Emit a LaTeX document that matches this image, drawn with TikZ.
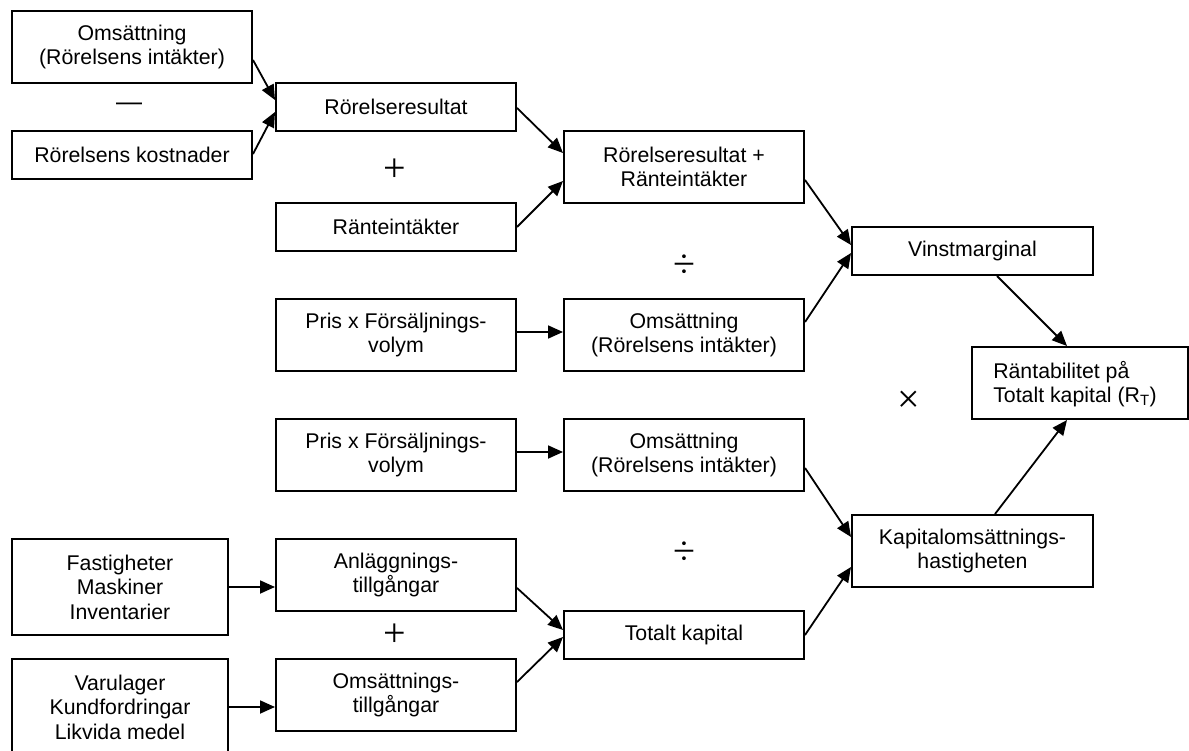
\documentclass[tikz,border=0pt]{standalone}
\usepackage{fontspec}
\setmainfont{Liberation Sans}
\newfontfamily\symfont{Liberation Serif}
\usetikzlibrary{calc,arrows.meta}
\begin{document}
\begin{tikzpicture}[x=1pt,y=-1pt,
  box/.style={draw,line width=2pt,rectangle,inner sep=0pt,align=center,
    font=\fontsize{21.3}{24.5}\selectfont},
  arr/.style={line width=1.8pt,-{Triangle[length=15pt,width=13pt]}},
  sym/.style={inner sep=0pt,font=\symfont\fontsize{40}{40}\selectfont}]
\clip (0,0) rectangle (1189,751);
% boxes
\node[box,minimum width=240pt,minimum height=72pt] (om1) at (132,47) {Omsättning\\(Rörelsens intäkter)};
\node[box,minimum width=240pt,minimum height=48pt] (kost) at (132,155) {Rörelsens kostnader};
\node[box,minimum width=240pt,minimum height=48pt] (rr) at (396,107) {Rörelseresultat};
\node[box,minimum width=240pt,minimum height=48pt] (ri) at (396,227) {Ränteintäkter};
\node[box,minimum width=240pt,minimum height=72pt] (rrri) at (684,167) {Rörelseresultat +\\Ränteintäkter};
\node[box,minimum width=240pt,minimum height=72pt] (pris1) at (396,335) {Pris x Försäljnings-\\volym};
\node[box,minimum width=240pt,minimum height=72pt] (om2) at (684,335) {Omsättning\\(Rörelsens intäkter)};
\node[box,minimum width=241pt,minimum height=48pt] (vm) at (972.5,251) {Vinstmarginal};
\node[box,minimum width=216pt,minimum height=72pt] (rt) at (1080,383) {};
\node[align=left,inner sep=0pt,font=\fontsize{21.3}{24.5}\selectfont] (rttext) at (1075,384) {Räntabilitet på\\Totalt kapital (R\textsubscript{T})};
\node[box,minimum width=240pt,minimum height=72pt] (pris2) at (396,455) {Pris x Försäljnings-\\volym};
\node[box,minimum width=240pt,minimum height=72pt] (om3) at (684,455) {Omsättning\\(Rörelsens intäkter)};
\node[box,minimum width=241pt,minimum height=72pt] (kap) at (972.5,551) {Kapitalomsättnings-\\hastigheten};
\node[box,minimum width=216pt,minimum height=96pt] (fast) at (120,587) {Fastigheter\\Maskiner\\Inventarier};
\node[box,minimum width=240pt,minimum height=72pt] (anl) at (396,575) {Anläggnings-\\tillgångar};
\node[box,minimum width=240pt,minimum height=48pt] (tk) at (684,635) {Totalt kapital};
\node[box,minimum width=216pt,minimum height=96pt] (varu) at (120,707) {Varulager\\Kundfordringar\\Likvida medel};
\node[box,minimum width=240pt,minimum height=72pt] (omt) at (396,695) {Omsättnings-\\tillgångar};
% operators
\node[inner sep=0pt,font=\fontsize{26}{26}\selectfont] (minus) at (129,107) {—};
\node[sym] (plus1) at (395,170) {+};
\node[sym] (div1) at (684,266) {÷};
\node[sym] (times) at (909,402) {×};
\node[sym] (div2) at (684,553) {÷};
\node[sym] (plus2) at (395,635) {+};
% connectors
\draw[arr] ($(om1.east)+(0,13)$) -- ($(rr.west)+(0,-7)$);
\draw[arr] ($(kost.east)+(0,-1)$) -- ($(rr.west)+(0,5)$);
\draw[arr] ($(rr.east)+(0,1)$) -- ($(rrri.west)+(0,-14)$);
\draw[arr] (ri.east) -- ($(rrri.west)+(0,14)$);
\draw[arr] ($(pris1.east)+(0,-3)$) -- ($(om2.west)+(0,-3)$);
\draw[arr] ($(rrri.east)+(0,13)$) -- ($(vm.west)+(0,-6)$);
\draw[arr] ($(om2.east)+(0,-13)$) -- ($(vm.west)+(0,2)$);
\draw[arr] ($(vm.south)+(24.5,0)$) -- ($(rt.north)+(-13,0)$);
\draw[arr] ($(kap.north)+(22.5,0)$) -- ($(rt.south)+(-13,0)$);
\draw[arr] ($(pris2.east)+(0,-3)$) -- ($(om3.west)+(0,-3)$);
\draw[arr] ($(om3.east)+(0,13)$) -- ($(kap.west)+(0,-14)$);
\draw[arr] (tk.east) -- ($(kap.west)+(0,16)$);
\draw[arr] (fast.east) -- (fast.east -| anl.west);
\draw[arr] (varu.east) -- (varu.east -| omt.west);
\draw[arr] ($(anl.east)+(0,13)$) -- ($(tk.west)+(0,-5)$);
\draw[arr] ($(omt.east)+(0,-13)$) -- ($(tk.west)+(0,2)$);
\end{tikzpicture}
\end{document}
